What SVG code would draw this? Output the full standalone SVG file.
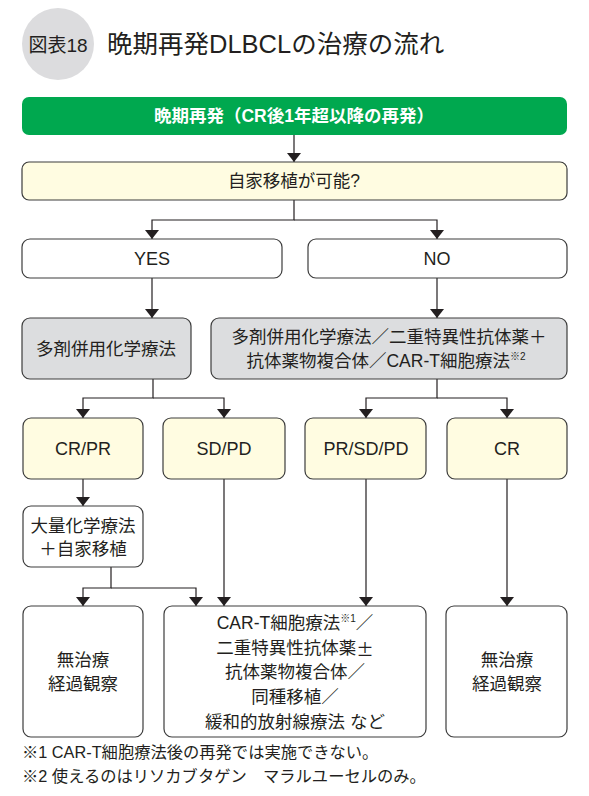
<svg xmlns="http://www.w3.org/2000/svg" width="589" height="796" viewBox="0 0 589 796">
<style>
text{font-family:"Liberation Sans","Noto Sans CJK JP",sans-serif;fill:#231f20;text-anchor:middle;dominant-baseline:central;font-size:17.5px}
.box{stroke:#3c3c3c;stroke-width:1.2}
.y{fill:#fffce1}
.w{fill:#ffffff}
.g{fill:#dcdddf}
.conn path{fill:none;stroke:#231f20;stroke-width:1.2}
.lat{font-size:18px}
.sup{font-size:10px}
.cjk{font-family:"Noto Sans CJK JP",sans-serif}
.fn{text-anchor:start;font-size:16.3px}
</style>
<defs>
<marker id="ah" viewBox="0 -7 9 14" refX="9" refY="0" markerWidth="9" markerHeight="14" markerUnits="userSpaceOnUse" orient="auto">
<path d="M0,-7 L9,0 L0,7 z" fill="#231f20"/>
</marker>
</defs>
<rect width="589" height="796" fill="#ffffff"/>
<g id="header">
<circle cx="58" cy="44" r="36" fill="#dcdcde"/>
<text x="58" y="45" style="font-size:19px">図表18</text>
<text x="107" y="44" style="font-size:25.5px;text-anchor:start">晩期再発DLBCLの治療の流れ</text>
</g>
<g class="conn">
<path d="M294,135 V162" marker-end="url(#ah)"/>
<path d="M294,200 V220 H152 V239" marker-end="url(#ah)"/>
<path d="M294,220 H437 V239" marker-end="url(#ah)"/>
<path d="M152,278 V318" marker-end="url(#ah)"/>
<path d="M437,278 V318" marker-end="url(#ah)"/>
<path d="M153,379 V398 H83 V418" marker-end="url(#ah)"/>
<path d="M153,398 H224 V418" marker-end="url(#ah)"/>
<path d="M437,379 V398 H366 V418" marker-end="url(#ah)"/>
<path d="M437,398 H507 V418" marker-end="url(#ah)"/>
<path d="M83,479 V506" marker-end="url(#ah)"/>
<path d="M111,567 V588 H83 V606" marker-end="url(#ah)"/>
<path d="M111,588 H196 V606" marker-end="url(#ah)"/>
<path d="M224,479 V606" marker-end="url(#ah)"/>
<path d="M366,479 V606" marker-end="url(#ah)"/>
<path d="M507,479 V606" marker-end="url(#ah)"/>
</g>
<g id="late-relapse">
<rect x="22" y="97" width="545" height="38" rx="7" fill="#00a84f"/>
<text x="294" y="116" style="fill:#ffffff;font-weight:bold;font-size:17.5px">晩期再発（CR後1年超以降の再発）</text>
</g>
<g id="asct-possible">
<rect class="box y" x="22" y="162" width="545" height="38" rx="7"/>
<text x="294" y="181">自家移植が可能?</text>
</g>
<g id="yes">
<rect class="box w" x="22" y="239" width="260" height="39" rx="8"/>
<text class="lat" x="152" y="259">YES</text>
</g>
<g id="no">
<rect class="box w" x="308" y="239" width="259" height="39" rx="8"/>
<text class="lat" x="437" y="259">NO</text>
</g>
<g id="chemo">
<rect class="box g" x="22" y="318" width="169" height="61" rx="8"/>
<text x="106" y="349">多剤併用化学療法</text>
</g>
<g id="chemo-alt">
<rect class="box g" x="211" y="318" width="356" height="61" rx="8"/>
<text x="389" y="337">多剤併用化学療法／二重特異性抗体薬＋</text>
<text x="386" y="361">抗体薬物複合体／CAR-T細胞療法<tspan class="sup" dy="-5">※2</tspan></text>
</g>
<g id="cr-pr">
<rect class="box y" x="23" y="418" width="120" height="61" rx="8"/>
<text class="lat" x="83" y="449">CR/PR</text>
</g>
<g id="sd-pd">
<rect class="box y" x="163" y="418" width="122" height="61" rx="8"/>
<text class="lat" x="224" y="449">SD/PD</text>
</g>
<g id="pr-sd-pd">
<rect class="box y" x="305" y="418" width="121" height="61" rx="8"/>
<text class="lat" x="366" y="449">PR/SD/PD</text>
</g>
<g id="cr">
<rect class="box y" x="447" y="418" width="120" height="61" rx="8"/>
<text class="lat" x="507" y="449">CR</text>
</g>
<g id="hdc-asct">
<rect class="box w" x="23" y="506" width="120" height="61" rx="8"/>
<text x="83" y="526">大量化学療法</text>
<text x="83" y="549">＋自家移植</text>
</g>
<g id="observe-left">
<rect class="box w" x="23" y="606" width="120" height="131" rx="8"/>
<text x="83" y="660">無治療</text>
<text x="83" y="684">経過観察</text>
</g>
<g id="salvage">
<rect class="box w" x="164" y="606" width="262" height="131" rx="8"/>
<text x="295" y="623">CAR-T細胞療法<tspan class="sup" dy="-5">※1</tspan><tspan dy="5">／</tspan></text>
<text x="295" y="648">二重特異性抗体薬<tspan class="cjk">±</tspan></text>
<text x="295" y="672">抗体薬物複合体／</text>
<text x="295" y="697">同種移植／</text>
<text x="295" y="722">緩和的放射線療法 など</text>
</g>
<g id="observe-right">
<rect class="box w" x="446" y="606" width="121" height="131" rx="8"/>
<text x="507" y="660">無治療</text>
<text x="507" y="684">経過観察</text>
</g>
<g id="footnotes">
<text class="fn" x="22" y="752">※1 CAR-T細胞療法後の再発では実施できない。</text>
<text class="fn" x="22" y="776">※2 使えるのはリソカブタゲン　マラルユーセルのみ。</text>
</g>
</svg>
